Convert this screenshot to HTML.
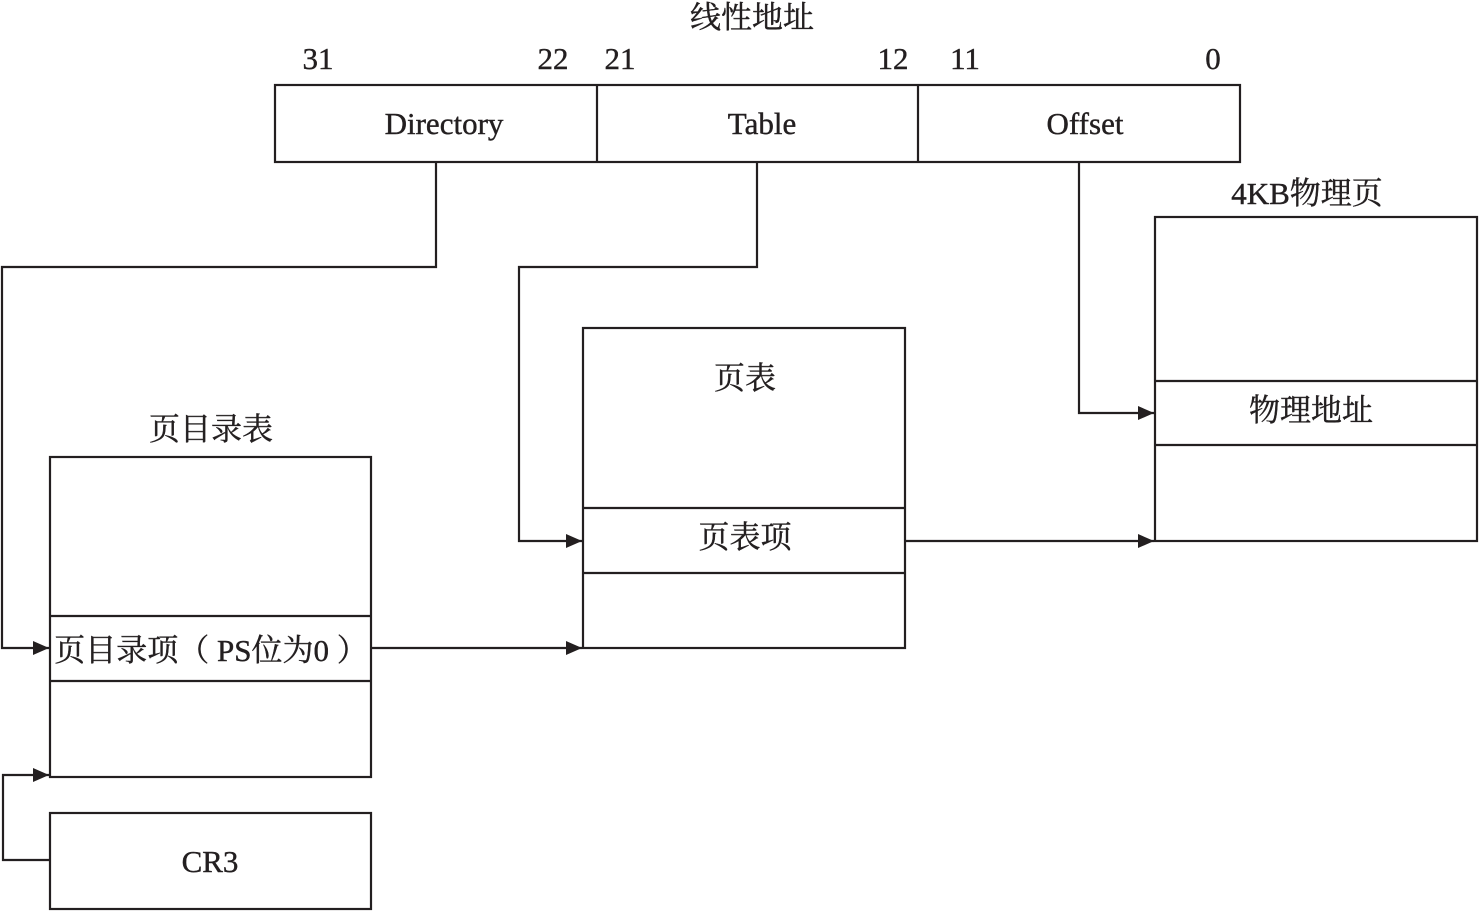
<!DOCTYPE html>
<html><head><meta charset="utf-8"><style>
html,body{margin:0;padding:0;background:#fff;}
svg{display:block;}
text{font-family:"Liberation Serif","Noto Serif CJK SC",serif;font-size:31px;fill:#231f20;stroke:#231f20;stroke-width:0.4px;}
</style></head><body>
<svg width="1479" height="911" viewBox="0 0 1479 911" xmlns="http://www.w3.org/2000/svg">
<defs><marker id="a" markerWidth="16" markerHeight="14" refX="16" refY="7" orient="auto" markerUnits="userSpaceOnUse"><path d="M0,0 L16,7 L0,14 Z" fill="#231f20"/></marker></defs>
<g fill="none" stroke="#231f20" stroke-width="2.2">
<rect x="275" y="85" width="965" height="77"/>
<line x1="597" y1="85" x2="597" y2="162"/>
<line x1="918" y1="85" x2="918" y2="162"/>
<rect x="50" y="457" width="321" height="320"/>
<line x1="50" y1="616" x2="371" y2="616"/>
<line x1="50" y1="681" x2="371" y2="681"/>
<rect x="583" y="328" width="322" height="320"/>
<line x1="583" y1="508" x2="905" y2="508"/>
<line x1="583" y1="573" x2="905" y2="573"/>
<rect x="1155" y="217" width="322" height="324"/>
<line x1="1155" y1="381" x2="1477" y2="381"/>
<line x1="1155" y1="445" x2="1477" y2="445"/>
<rect x="50" y="813" width="321" height="96"/>
<polyline points="436,162 436,267 2,267 2,648 49,648" marker-end="url(#a)"/>
<polyline points="757,162 757,267 519,267 519,541 582,541" marker-end="url(#a)"/>
<polyline points="1079,162 1079,413 1154,413" marker-end="url(#a)"/>
<polyline points="371,648 582,648" marker-end="url(#a)"/>
<polyline points="905,541 1154,541" marker-end="url(#a)"/>
<polyline points="50,860 3,860 3,775 49,775" marker-end="url(#a)"/>
</g>
<g text-anchor="middle">
<text x="752" y="28">线性地址</text>
<text x="318" y="69">31</text>
<text x="553" y="69">22</text>
<text x="620" y="69">21</text>
<text x="893" y="69">12</text>
<text x="965" y="69">11</text>
<text x="1213" y="69">0</text>
<text x="444" y="134">Directory</text>
<text x="762" y="134">Table</text>
<text x="1085" y="134">Offset</text>
<text x="211" y="440">页目录表</text>
<text x="211" y="661">页目录项（ PS位为0 ）</text>
<text x="745" y="389">页表</text>
<text x="745" y="548">页表项</text>
<text x="1307" y="204">4KB物理页</text>
<text x="1311" y="421">物理地址</text>
<text x="210" y="872">CR3</text>
</g>
</svg>
</body></html>
